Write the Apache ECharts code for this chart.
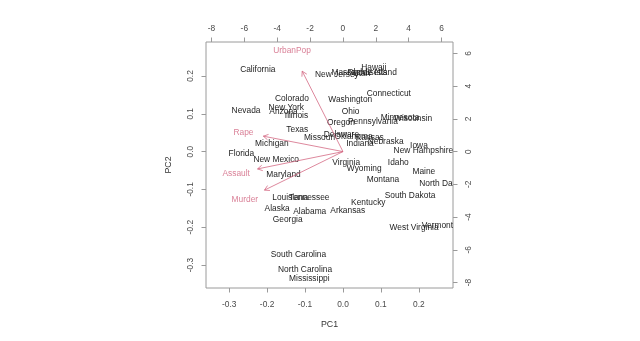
<!DOCTYPE html>
<html>
<head>
<meta charset="utf-8">
<script src="https://cdn.jsdelivr.net/npm/echarts@6/dist/echarts.min.js"></script>
<style>
  html, body { margin: 0; padding: 0; background: #ffffff; }
  #chart { width: 640px; height: 341px; }
</style>
</head>
<body>
<div id="chart"></div>
<script>
// US arrests, principal components biplot: state scores (PC1, PC2)
const states = [
  'Alabama', 'Alaska', 'Arizona', 'Arkansas', 'California', 'Colorado', 'Connecticut',
  'Delaware', 'Florida', 'Georgia', 'Hawaii', 'Idaho', 'Illinois', 'Indiana', 'Iowa',
  'Kansas', 'Kentucky', 'Louisiana', 'Maine', 'Maryland', 'Massachusetts', 'Michigan',
  'Minnesota', 'Mississippi', 'Missouri', 'Montana', 'Nebraska', 'Nevada',
  'New Hampshire', 'New Jersey', 'New Mexico', 'New York', 'North Carolina',
  'North Dakota', 'Ohio', 'Oklahoma', 'Oregon', 'Pennsylvania', 'Rhode Island',
  'South Carolina', 'South Dakota', 'Tennessee', 'Texas', 'Utah', 'Vermont',
  'Virginia', 'Washington', 'West Virginia', 'Wisconsin', 'Wyoming'
];
const pc1 = [
  -0.0876, -0.1734, -0.1567, 0.0126, -0.2244, -0.1346, 0.1208,
  -0.0042, -0.2678, -0.1457, 0.0811, 0.1458, -0.1226, 0.0449, 0.2003,
  0.0708, 0.0667, -0.1391, 0.2131, -0.1568, 0.0432, -0.1874,
  0.1505, -0.0886, -0.0619, 0.1054, 0.1125, -0.2555,
  0.2119, -0.0161, -0.1760, -0.1496, -0.0999,
  0.2660, 0.0201, 0.0277, -0.0053, 0.0790, 0.0768,
  -0.1174, 0.1767, -0.0889, -0.1205, 0.0489, 0.2490,
  0.0086, 0.0193, 0.1874, 0.1848, 0.0560
];
const pc2 = [
  -0.1595, -0.1510, 0.1050, -0.1576, 0.2171, 0.1390, 0.1532,
  0.0458, -0.0055, -0.1800, 0.2210, -0.0297, 0.0960, 0.0213, 0.0146,
  0.0380, -0.1349, -0.1226, -0.0530, -0.0602, 0.2075, 0.0219,
  0.0890, -0.3369, 0.0371, -0.0755, 0.0273, 0.1091,
  0.0026, 0.2040, -0.0201, 0.1158, -0.3135,
  -0.0844, 0.1045, 0.0405, 0.0762, 0.0804, 0.2100,
  -0.2721, -0.1159, -0.1211, 0.0580, 0.2070, -0.1973,
  -0.0281, 0.1365, -0.2006, 0.0860, -0.0452
];

// variable loadings, read on the top / right axes
const variables = ['Murder', 'Assault', 'UrbanPop', 'Rape'];
const load1 = [-5.968, -6.494, -3.098, -6.052];
const load2 = [-2.942, -1.322, 6.140, 1.177];

// axis ticks
const scoreTicks = [-0.3, -0.2, -0.1, 0, 0.1, 0.2];
const loadingTicks = [-8, -6, -4, -2, 0, 2, 4, 6];
const scoreRange = [-0.361, 0.290];
const loadingRange = [-8.332, 6.695];

// styling
const FONT = '"Liberation Sans", Arial, Helvetica, sans-serif';
const TEXT_SIZE = 8.4;
const STATE_COLOR = '#1e1e1e';
const VAR_COLOR = '#cf5f7c';
const ARROW_COLOR = 'rgba(210, 96, 124, 0.75)';
const AXIS_COLOR = '#9a9a9a';
const TICK_TEXT = '#4a4a4a';
const ARROW_SHAFT = 0.8;   // arrows stop short of the variable names
const HEAD_LEN = 5.5;
const HEAD_ANGLE = Math.PI / 6;

const chart = echarts.init(document.getElementById('chart'), null, { renderer: 'canvas' });

function valueAxis(position, range, ticks, fmt, extra) {
  return Object.assign({
    type: 'value',
    position: position,
    min: range[0],
    max: range[1],
    scale: true,
    splitLine: { show: false },
    axisLine: { show: false, onZero: false },
    axisTick: {
      show: true,
      inside: false,
      customValues: ticks,
      length: 4.5,
      lineStyle: { color: AXIS_COLOR, width: 1 }
    },
    axisLabel: {
      customValues: ticks,
      formatter: fmt,
      color: TICK_TEXT,
      fontFamily: FONT,
      fontSize: TEXT_SIZE
    }
  }, extra || {});
}

const fmtScore = v => Number(v).toFixed(1);
const fmtLoading = v => String(Math.round(Number(v)));

// text clipped to the plotting region, like names running past the frame
function clippedText(params, api, color) {
  const p = api.coord([api.value(0), api.value(1)]);
  const cs = params.coordSys;
  return {
    type: 'text',
    x: p[0], y: p[1],
    style: {
      text: states[params.dataIndex],
      fill: color,
      font: TEXT_SIZE + 'px ' + FONT,
      align: 'center',
      verticalAlign: 'middle'
    },
    clipPath: {
      type: 'rect',
      shape: { x: cs.x - p[0], y: cs.y - p[1], width: cs.width, height: cs.height }
    }
  };
}

const option = {
  animation: false,
  backgroundColor: '#ffffff',
  grid: {
    left: 206, top: 42, width: 247, height: 246,
    show: true, borderColor: AXIS_COLOR, borderWidth: 1, backgroundColor: 'transparent'
  },
  xAxis: [
    valueAxis('bottom', scoreRange, scoreTicks, fmtScore, {
      name: 'PC1', nameLocation: 'middle', nameGap: 32,
      nameTextStyle: { color: '#333', fontFamily: FONT, fontSize: TEXT_SIZE + 0.4 }
    }),
    valueAxis('top', loadingRange, loadingTicks, fmtLoading)
  ],
  yAxis: [
    valueAxis('left', scoreRange, scoreTicks, fmtScore, {
      name: 'PC2', nameLocation: 'middle', nameGap: 33, nameRotate: 90,
      nameTextStyle: { color: '#333', fontFamily: FONT, fontSize: TEXT_SIZE + 0.4 }
    }),
    valueAxis('right', loadingRange, loadingTicks, fmtLoading)
  ],
  series: [
    {
      name: 'states',
      type: 'custom',
      xAxisIndex: 0, yAxisIndex: 0,
      silent: true,
      renderItem: (params, api) => clippedText(params, api, STATE_COLOR),
      data: states.map((s, i) => ({ name: s, value: [pc1[i], pc2[i]] }))
    },
    {
      name: 'arrows',
      type: 'custom',
      xAxisIndex: 1, yAxisIndex: 1,
      silent: true,
      renderItem: function (params, api) {
        const o = api.coord([0, 0]);
        const t = api.coord([api.value(0) * ARROW_SHAFT, api.value(1) * ARROW_SHAFT]);
        const ang = Math.atan2(t[1] - o[1], t[0] - o[0]);
        const h1 = [t[0] - HEAD_LEN * Math.cos(ang - HEAD_ANGLE), t[1] - HEAD_LEN * Math.sin(ang - HEAD_ANGLE)];
        const h2 = [t[0] - HEAD_LEN * Math.cos(ang + HEAD_ANGLE), t[1] - HEAD_LEN * Math.sin(ang + HEAD_ANGLE)];
        const style = { stroke: ARROW_COLOR, lineWidth: 1, fill: null };
        return {
          type: 'group',
          children: [
            { type: 'polyline', shape: { points: [o, t] }, style: style },
            { type: 'polyline', shape: { points: [h1, t, h2] }, style: style }
          ]
        };
      },
      data: variables.map((v, i) => ({ name: v, value: [load1[i], load2[i]] }))
    },
    {
      name: 'variables',
      type: 'scatter',
      xAxisIndex: 1, yAxisIndex: 1,
      symbolSize: 0,
      silent: true,
      label: {
        show: true, position: 'inside',
        formatter: p => p.name,
        color: VAR_COLOR, fontFamily: FONT, fontSize: TEXT_SIZE
      },
      emphasis: { disabled: true },
      data: variables.map((v, i) => ({ name: v, value: [load1[i], load2[i]] }))
    }
  ]
};

// tick-label placement per side (left/right labels run along the axis)
option.xAxis[0].axisLabel.margin = 13;
option.xAxis[1].axisLabel.margin = 9;
option.yAxis[0].axisLabel.margin = 11;
option.yAxis[0].axisLabel.rotate = 90;
option.yAxis[1].axisLabel.margin = 12;
option.yAxis[1].axisLabel.rotate = 90;

chart.setOption(option);
</script>
</body>
</html>
